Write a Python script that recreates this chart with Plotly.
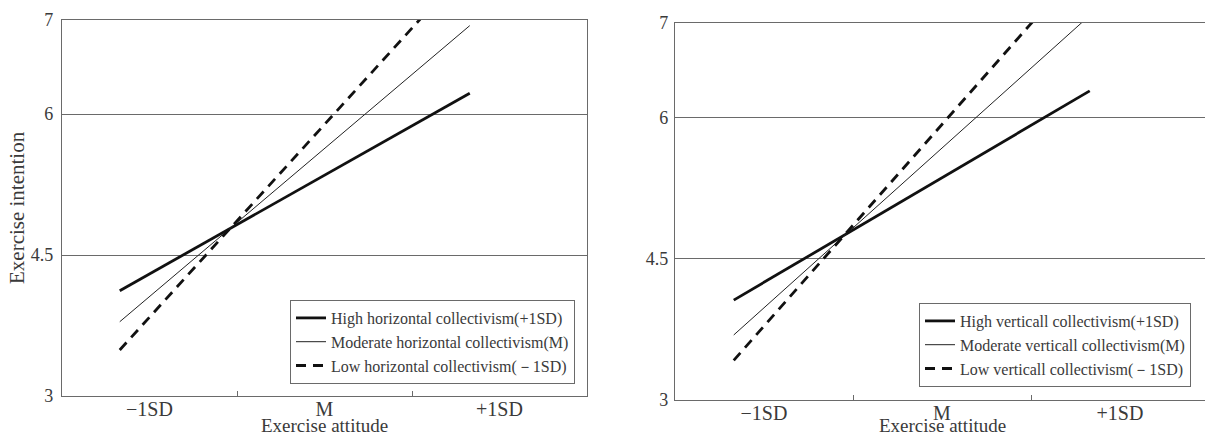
import plotly.graph_objects as go

# ---- data ----
attitude_x = [0.33, 2.33]              # line endpoints on the attitude axis
x_tick_pos = [0.5, 1.5, 2.5]
x_tick_text = ["−1SD", "M", "+1SD"]
x_minor_ticks = [1, 2]
y_ticks = [3, 4.5, 6, 7]
y_tick_text = ["3", "4.5", "6", "7"]

left_names = ["High horizontal collectivism(+1SD)",
              "Moderate horizontal collectivism(M)",
              "Low horizontal collectivism(－1SD)"]
left_high = [4.12, 6.22]
left_mod = [3.79, 6.94]
left_low = [3.49, 7.59]

right_names = ["High verticall collectivism(+1SD)",
               "Moderate verticall collectivism(M)",
               "Low verticall collectivism(－1SD)"]
right_high = [4.06, 6.28]
right_mod = [3.69, 7.08]
right_low = [3.42, 7.70]

x_title = "Exercise attitude"
y_title = "Exercise intention"

W, H = 1205, 436
FONT = "Liberation Serif, Times New Roman, serif"
AX = "#6a6a6a"
TXT = "#3a3a3a"

styles = [dict(color="#111", width=2.8),
          dict(color="#222", width=1.0),
          dict(color="#111", width=2.8, dash="10px,7px")]

fig = go.Figure()
for names, series, xa, ya, leg in [
        (left_names, [left_high, left_mod, left_low], "x", "y", "legend"),
        (right_names, [right_high, right_mod, right_low], "x2", "y2", "legend2")]:
    for nm, vals, st in zip(names, series, styles):
        fig.add_trace(go.Scatter(x=attitude_x, y=vals, mode="lines", name=nm,
                                 line=st, xaxis=xa, yaxis=ya, legend=leg))

def xaxis(domain, rng):
    return dict(domain=domain, range=rng, showline=True, linecolor=AX, linewidth=1.3,
                mirror=True, tickvals=x_tick_pos, ticktext=x_tick_text, ticks="",
                showgrid=False, zeroline=False, automargin=False,
                ticklabelstandoff=-5,
                tickfont=dict(family=FONT, size=20, color=TXT),
                minor=dict(tickvals=x_minor_ticks, ticks="inside", ticklen=5,
                           tickcolor=AX, tickwidth=1, showgrid=False))

def yaxis(domain, anchor, mirror, standoff):
    return dict(domain=domain, range=[3, 7], anchor=anchor, showline=True, linecolor=AX,
                linewidth=1.3, mirror=mirror, tickvals=y_ticks, ticktext=y_tick_text,
                ticks="", showgrid=True, gridcolor=AX, gridwidth=1.3, zeroline=False,
                automargin=False, ticklabelstandoff=standoff,
                tickfont=dict(family=FONT, size=18, color=TXT))

title_font = dict(family=FONT, size=19, color=TXT)
annotations = [
    dict(text=x_title, xref="paper", yref="paper", x=(62 + 587) / 2 / W,
         y=0, xanchor="center", yanchor="bottom", yshift=-2, showarrow=False,
         font=title_font),
    dict(text=x_title, xref="paper", yref="paper", x=942 / W,
         y=0, xanchor="center", yanchor="bottom", yshift=-2, showarrow=False,
         font=title_font),
    dict(text=y_title, xref="paper", yref="paper", x=17 / W,
         y=1 - 208 / H, xanchor="center", yanchor="middle", showarrow=False,
         textangle=-90, font=dict(family=FONT, size=21, color=TXT)),
]

legend_common = dict(bordercolor=AX, borderwidth=1, bgcolor="white",
                     font=dict(family=FONT, size=16, color=TXT),
                     tracegroupgap=0, itemwidth=30,
                     xanchor="right", yanchor="bottom")

fig.update_layout(
    width=W, height=H,
    margin=dict(l=0, r=0, t=0, b=0, autoexpand=False),
    paper_bgcolor="white", plot_bgcolor="white",
    xaxis=xaxis([62 / W, 587 / W], [0, 3]),
    xaxis2=dict(xaxis([675 / W, 1.0], [0, 530 / 178]), anchor="y2"),
    yaxis=yaxis([1 - 396 / H, 1 - 20 / H], "x", True, 4),
    yaxis2=yaxis([1 - 400 / H, 1 - 23 / H], "x2", False, 2),
    legend=dict(legend_common, x=575 / W, y=1 - 384 / H),
    legend2=dict(legend_common, x=1191 / W, y=1 - 387 / H),
    annotations=annotations,
    showlegend=True,
)

fig.write_html(
    "out.html",
    config={"displayModeBar": False},
    post_script="document.body.style.margin='0';document.body.style.overflow='hidden';",
)
